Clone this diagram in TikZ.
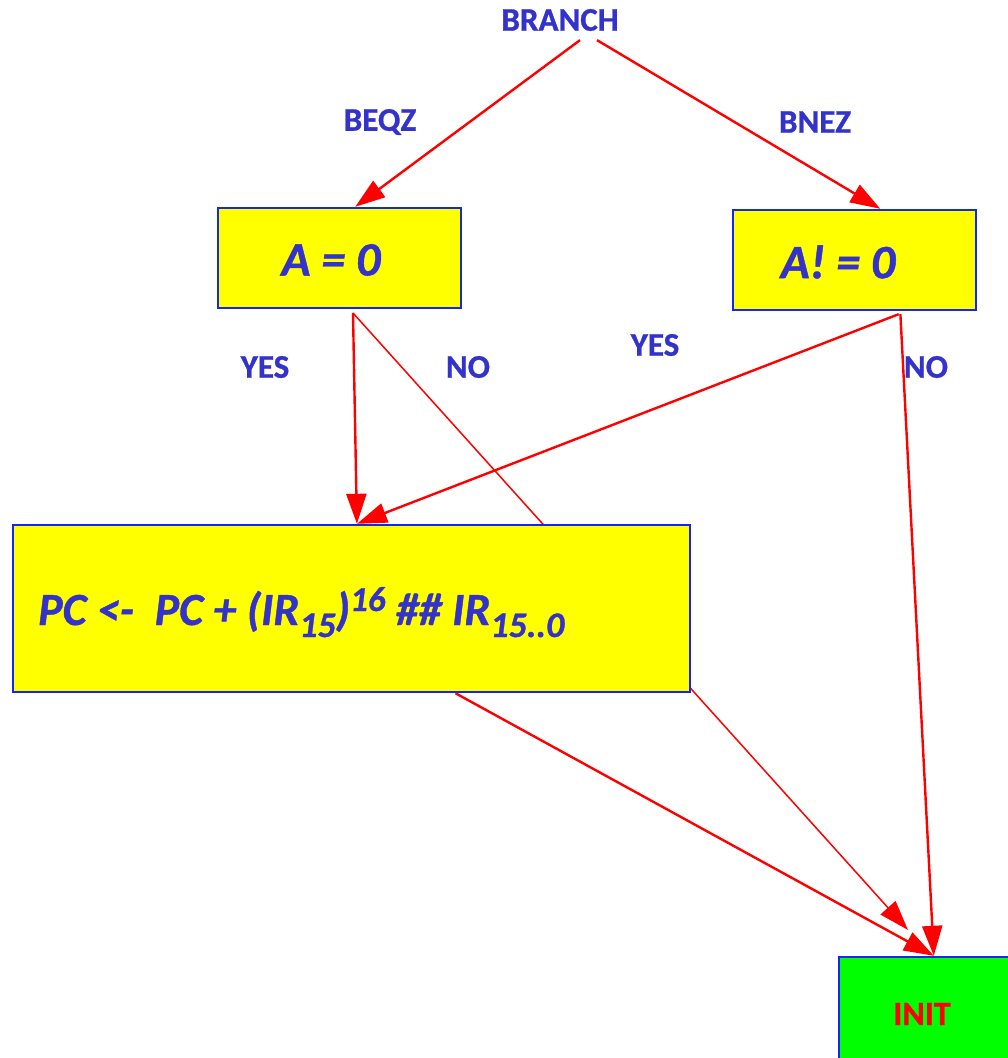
\documentclass[tikz,border=0pt]{standalone}
\usepackage{fontspec}
\setmainfont{Carlito}[BoldFeatures={FakeBold=0.9},BoldItalicFeatures={FakeBold=0.9}]
\usetikzlibrary{arrows.meta,calc}
\definecolor{labelblue}{RGB}{51,51,204}
\definecolor{edgeblue}{RGB}{20,40,235}
\definecolor{flowred}{RGB}{255,0,0}
\definecolor{boxyellow}{RGB}{255,255,0}
\definecolor{boxgreen}{RGB}{0,255,0}
\newcommand\lowpart[1]{\raisebox{-12pt}{\fontsize{36pt}{36pt}\selectfont #1}}
\newcommand\highpart[1]{\raisebox{14pt}{\fontsize{35pt}{35pt}\selectfont #1}}
\tikzset{
  lbl/.style={text=labelblue,font=\fontsize{33pt}{33pt}\selectfont\bfseries,inner sep=0pt},
  condbox/.style={draw=edgeblue,line width=2.4pt,fill=boxyellow,inner sep=0pt},
  condtext/.style={text=labelblue,font=\fontsize{48pt}{48pt}\selectfont\bfseries\itshape,inner sep=0pt},
  flow/.style={draw=flowred,line width=2.4pt,-{Triangle[length=30pt,width=20pt]}},
  thinflow/.style={draw=flowred,line width=1.5pt,-{Triangle[length=30pt,width=20pt]}},
}
\begin{document}
\begin{tikzpicture}[x=1pt,y=-1pt]
\useasboundingbox (0,0) rectangle (1008,1058);
\clip (0,0) rectangle (1008,1058);

% long thin "no" path from A = 0, running behind the update box
\coordinate (nostart) at (353,313);
\coordinate (thintip) at (908,930);
\draw[thinflow] (nostart) -- (thintip);

% decision and action boxes
\node[condbox,minimum width=243pt,minimum height=100pt] (azero) at (339.5,258) {};
\node[condtext] (azerotext) at (331,260) {A = 0};
\node[condbox,minimum width=243pt,minimum height=100pt] (anot) at (854.5,260) {};
\node[condtext] (anottext) at (838,262) {A! = 0};
\node[condbox,minimum width=677pt,minimum height=167pt] (update) at (351.5,608.5) {};
\node[anchor=base west,text=labelblue,font=\fontsize{46pt}{46pt}\selectfont\bfseries\itshape,inner sep=0pt] (updatetext) at (38,625)
  {PC <-\ \ PC + (IR\lowpart{15})\highpart{16} \#\# IR\lowpart{15..0}};
\node[draw=edgeblue,line width=2.4pt,fill=boxgreen,minimum width=250pt,minimum height=150pt,inner sep=0pt] (init) at (964,1032) {};
\node[text=flowred,font=\fontsize{34pt}{34pt}\selectfont\bfseries,inner sep=0pt] (inittext) at (922,1014) {INIT};

% labels
\node[lbl] (branch) at (560,20) {BRANCH};
\node[lbl] (beqz) at (380,122) {BEQZ};
\node[lbl] (bnez) at (815,122) {BNEZ};
\node[lbl] (yesa) at (265,367) {YES};
\node[lbl] (noa) at (468,367) {NO};
\node[lbl] (yesb) at (655,345) {YES};
\node[lbl] (nob) at (926,367) {NO};

% connectors
\draw[flow] ($(branch.south)+(20,9)$) -- ($(azero.north west)!0.564!(azero.north east)$);
\draw[flow] ($(branch.south)+(37,9)$) -- ($(anot.north west)!0.605!(anot.north east)$);
\draw[flow] (nostart) -- ($(update.north west)!0.508!(update.north east)$);
\draw[flow] ($(anot.south west)!0.68!(anot.south east)+(0,3)$) -- ($(update.north west)!0.508!(update.north east)$);
\draw[flow] ($(anot.south west)!0.687!(anot.south east)+(0,3)$) -- ($(init.north west)+(96,0)$);
\draw[flow] ($(update.south west)!0.653!(update.south east)$) -- ($(init.north west)+(96,0)$);
\end{tikzpicture}
\end{document}
